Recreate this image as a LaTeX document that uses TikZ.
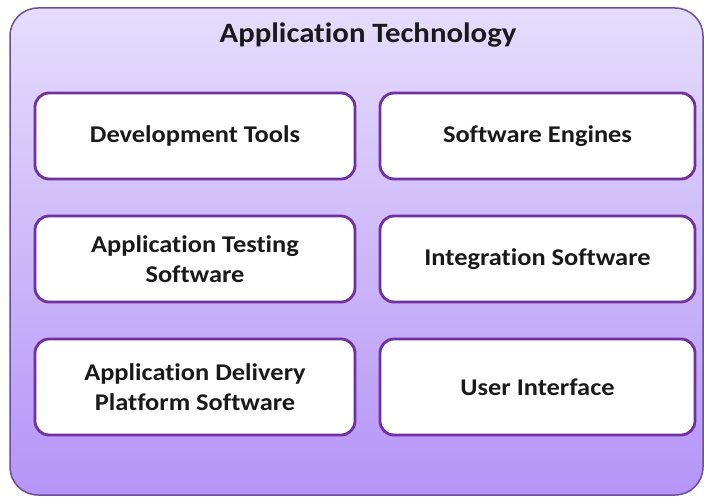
\documentclass[tikz,border=0pt]{standalone}
\usepackage{fontspec}
\setmainfont{Carlito}[FakeStretch=1.1, Ligatures=NoCommon]
\usetikzlibrary{positioning}
\definecolor{frameline}{HTML}{6E4C9E}
\definecolor{frametop}{HTML}{E5DDFC}
\definecolor{framebottom}{HTML}{B594F7}
\definecolor{boxline}{HTML}{7030A0}
\tikzset{
  basic/.style  = {rectangle, align=center, font=\bfseries, text=black!90},
  frame/.style  = {basic, rounded corners=28pt, draw=frameline, line width=1.5pt,
                   top color=frametop, bottom color=framebottom,
                   minimum width=693pt, minimum height=487pt},
  title/.style  = {basic, font=\bfseries\fontsize{28}{32}\selectfont},
  item/.style   = {basic, rounded corners=14pt, draw=boxline, line width=2.8pt,
                   fill=white, minimum width=320pt, minimum height=86pt,
                   outer sep=0pt, font=\bfseries\fontsize{24}{30}\selectfont},
  item right/.style = {item, minimum width=315pt}
}
\begin{document}
\begin{tikzpicture}[x=1pt, y=1pt, node distance=37pt and 25pt]
  \useasboundingbox (0,0) rectangle (704,-497);

  % outer frame and its title
  \node[frame] (tech) at (356.5,-251.5) {};
  \node[title, anchor=base] (head) at (368,-43) {Application Technology};

  % the left column
  \node[item, anchor=north west] (dev) at (35,-93) {Development Tools};
  \node[item, below=of dev] (test) {Application Testing\\ Software};
  \node[item, below=of test, minimum height=96pt] (deliv)
    {Application Delivery\\ Platform Software};

  % the right column
  \node[item right, right=of dev] (engine) {Software Engines};
  \node[item right, right=of test] (integ) {Integration Software};
  \node[item right, right=of deliv, minimum height=96pt] (ui) {User Interface};
\end{tikzpicture}
\end{document}
